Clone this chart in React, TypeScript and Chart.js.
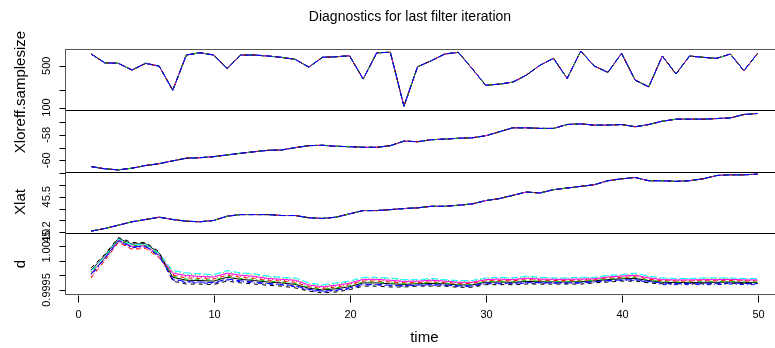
import React, { useEffect, useRef } from 'react';
import { Chart, registerables } from 'chart.js';

Chart.register(...registerables);

const TITLE = 'Diagnostics for last filter iteration';
const X_TITLE = 'time';

const TIME = [1, 2, 3, 4, 5, 6, 7, 8, 9, 10, 11, 12, 13, 14, 15, 16, 17, 18, 19, 20, 21, 22, 23, 24, 25, 26, 27, 28, 29, 30, 31, 32, 33, 34, 35, 36, 37, 38, 39, 40, 41, 42, 43, 44, 45, 46, 47, 48, 49, 50];
const TIME_TICKS = [0, 10, 20, 30, 40, 50];
const TIME_RANGE = [-0.96, 51.96];

// Panel 1: effective sample size (log axis)
const EFF_SAMPLE_SIZE = [787, 562, 549, 424, 549, 494, 195, 757, 827, 757, 452, 757, 757, 728, 692, 641, 475, 692, 709, 735, 300, 827, 840, 105, 481, 607, 787, 840, 452, 237, 246, 266, 349, 510, 666, 307, 883, 494, 388, 808, 288, 222, 728, 365, 728, 692, 666, 787, 413, 808];
const EFF_TICKS = [100, 200, 500];
const EFF_TICK_LABELS = ['100', '', '500'];
const EFF_RANGE = [90.1, 955];

// Panel 2: Xlon
const X_LON = [-60.5, -60.68, -60.76, -60.63, -60.42, -60.27, -60.05, -59.84, -59.8, -59.72, -59.58, -59.45, -59.33, -59.22, -59.19, -59.01, -58.85, -58.82, -58.9, -58.93, -58.98, -58.98, -58.85, -58.49, -58.54, -58.38, -58.33, -58.27, -58.23, -58.07, -57.76, -57.44, -57.44, -57.49, -57.49, -57.18, -57.13, -57.23, -57.23, -57.18, -57.36, -57.18, -56.92, -56.76, -56.76, -56.76, -56.71, -56.66, -56.39, -56.31];
const LON_TICKS = [-60, -59, -58, -57];
const LON_TICK_LABELS = ['-60', '', '-58', ''];
const LON_RANGE = [-60.89, -56.055];

// Panel 3: Xlat
const X_LAT = [45.209, 45.231, 45.259, 45.288, 45.307, 45.327, 45.307, 45.293, 45.288, 45.299, 45.335, 45.349, 45.349, 45.349, 45.341, 45.341, 45.322, 45.316, 45.327, 45.355, 45.383, 45.383, 45.391, 45.4, 45.406, 45.419, 45.419, 45.428, 45.439, 45.467, 45.484, 45.512, 45.54, 45.532, 45.56, 45.574, 45.588, 45.602, 45.636, 45.652, 45.663, 45.636, 45.636, 45.63, 45.636, 45.652, 45.68, 45.686, 45.686, 45.692];
const LAT_TICKS = [45.2, 45.3, 45.4, 45.5, 45.6, 45.7];
const LAT_TICK_LABELS = ['45.2', '', '', '45.5', '', ''];
const LAT_RANGE = [45.195, 45.714];

// Panel 4: d, one series per replicate
const D_REP1 = [1.00018, 1.00067, 1.00125, 1.00106, 1.00107, 1.00076, 0.99993, 0.99983, 0.99982, 0.9998, 0.99993, 0.99986, 0.99982, 0.99977, 0.99974, 0.99969, 0.99956, 0.9995, 0.99954, 0.99961, 0.99974, 0.99974, 0.99971, 0.99969, 0.99971, 0.99972, 0.99971, 0.99967, 0.99967, 0.99976, 0.99977, 0.99976, 0.99979, 0.99978, 0.99977, 0.99977, 0.99978, 0.99981, 0.99985, 0.99988, 0.99989, 0.99982, 0.99976, 0.99975, 0.99975, 0.99976, 0.99976, 0.99977, 0.99975, 0.99975];
const D_REP2 = [0.99991, 1.00049, 1.00111, 1.00088, 1.00091, 1.00059, 1.0, 0.99991, 0.99989, 0.99987, 1.0, 0.99993, 0.99989, 0.99983, 0.9998, 0.99976, 0.99961, 0.99955, 0.9996, 0.99967, 0.9998, 0.9998, 0.99977, 0.99974, 0.99975, 0.99977, 0.99975, 0.99972, 0.99972, 0.99981, 0.99982, 0.99981, 0.99985, 0.99983, 0.99982, 0.99982, 0.99983, 0.99984, 0.9999, 0.99992, 0.99995, 0.99987, 0.99981, 0.9998, 0.9998, 0.99981, 0.99981, 0.99982, 0.9998, 0.9998];
const D_REP3 = [1.00011, 1.00062, 1.00121, 1.00102, 1.00103, 1.00072, 1.00012, 1.00004, 1.00002, 0.99999, 1.00012, 1.00005, 1.00002, 0.99994, 0.9999, 0.99988, 0.99971, 0.99965, 0.99971, 0.99977, 0.9999, 0.9999, 0.99988, 0.99983, 0.99983, 0.99986, 0.99983, 0.9998, 0.9998, 0.99989, 0.99991, 0.99989, 0.99994, 0.99991, 0.99989, 0.99989, 0.99991, 0.99991, 0.99998, 1.0, 1.00004, 0.99995, 0.99989, 0.99987, 0.99987, 0.99989, 0.99989, 0.99989, 0.99987, 0.99987];
const D_REP4 = [1.0, 1.00055, 1.00115, 1.00094, 1.00096, 1.00064, 0.99984, 0.99975, 0.99974, 0.99972, 0.99984, 0.99978, 0.99974, 0.9997, 0.99967, 0.99961, 0.99949, 0.99943, 0.99947, 0.99954, 0.99967, 0.99967, 0.99964, 0.99963, 0.99966, 0.99966, 0.99966, 0.99962, 0.99962, 0.99971, 0.99971, 0.99971, 0.99973, 0.99973, 0.99973, 0.99973, 0.99973, 0.99976, 0.9998, 0.99983, 0.99983, 0.99977, 0.99968, 0.99968, 0.99968, 0.99968, 0.99968, 0.9997, 0.99968, 0.99968];
const D_REP5 = [1.00015, 1.00064, 1.00123, 1.00104, 1.00105, 1.00074, 1.00016, 1.00008, 1.00005, 1.00002, 1.00016, 1.00008, 1.00005, 0.99997, 0.99993, 0.99991, 0.99974, 0.99968, 0.99974, 0.9998, 0.99993, 0.99993, 0.99991, 0.99985, 0.99985, 0.99989, 0.99985, 0.99982, 0.99982, 0.99991, 0.99993, 0.99991, 0.99997, 0.99993, 0.99991, 0.99991, 0.99993, 0.99993, 1.0, 1.00002, 1.00007, 0.99997, 0.99991, 0.99989, 0.99989, 0.99991, 0.99991, 0.99991, 0.99989, 0.99989];
const D_REP6 = [1.00006, 1.00059, 1.00119, 1.00098, 1.001, 1.00068, 1.00007, 0.99999, 0.99996, 0.99994, 1.00007, 1.0, 0.99996, 0.99989, 0.99986, 0.99983, 0.99967, 0.99961, 0.99966, 0.99973, 0.99986, 0.99986, 0.99983, 0.99979, 0.9998, 0.99983, 0.9998, 0.99976, 0.99976, 0.99985, 0.99987, 0.99985, 0.9999, 0.99987, 0.99986, 0.99986, 0.99987, 0.99988, 0.99994, 0.99997, 1.0, 0.99991, 0.99985, 0.99984, 0.99984, 0.99985, 0.99985, 0.99986, 0.99984, 0.99984];
const D_REP7 = [1.00025, 1.00071, 1.00128, 1.00111, 1.00111, 1.0008, 0.9998, 0.9997, 0.9997, 0.99968, 0.9998, 0.99974, 0.9997, 0.99966, 0.99963, 0.99957, 0.99946, 0.9994, 0.99943, 0.99951, 0.99963, 0.99963, 0.9996, 0.9996, 0.99963, 0.99963, 0.99963, 0.99959, 0.99959, 0.99968, 0.99968, 0.99968, 0.9997, 0.9997, 0.9997, 0.9997, 0.9997, 0.99974, 0.99977, 0.9998, 0.9998, 0.99974, 0.99971, 0.99971, 0.99971, 0.99971, 0.99971, 0.99973, 0.99971, 0.99971];
const D_REP8 = [0.99994, 1.00051, 1.00113, 1.0009, 1.00093, 1.00061, 1.00003, 0.99995, 0.99993, 0.9999, 1.00003, 0.99996, 0.99993, 0.99986, 0.99983, 0.99979, 0.99964, 0.99958, 0.99963, 0.9997, 0.99983, 0.99983, 0.9998, 0.99976, 0.99977, 0.9998, 0.99977, 0.99974, 0.99974, 0.99983, 0.99984, 0.99983, 0.99988, 0.99985, 0.99984, 0.99984, 0.99985, 0.99986, 0.99992, 0.99994, 0.99998, 0.99989, 0.99983, 0.99982, 0.99982, 0.99983, 0.99983, 0.99984, 0.99982, 0.99982];
const D_REP9 = [1.00008, 1.0006, 1.0012, 1.001, 1.00101, 1.0007, 0.99996, 0.99987, 0.99986, 0.99983, 0.99996, 0.99989, 0.99986, 0.9998, 0.99977, 0.99972, 0.99959, 0.99953, 0.99957, 0.99964, 0.99977, 0.99977, 0.99974, 0.99971, 0.99973, 0.99975, 0.99973, 0.99969, 0.99969, 0.99978, 0.99979, 0.99978, 0.99982, 0.9998, 0.99979, 0.99979, 0.9998, 0.99983, 0.99987, 0.9999, 0.99992, 0.99984, 0.99978, 0.99977, 0.99977, 0.99978, 0.99978, 0.99979, 0.99977, 0.99977];
const D_REP10 = [1.00003, 1.00057, 1.00117, 1.00096, 1.00098, 1.00066, 0.99987, 0.99978, 0.99977, 0.99975, 0.99987, 0.99981, 0.99977, 0.99972, 0.99969, 0.99964, 0.99952, 0.99946, 0.99949, 0.99957, 0.99969, 0.99969, 0.99966, 0.99965, 0.99967, 0.99968, 0.99967, 0.99964, 0.99964, 0.99973, 0.99973, 0.99973, 0.99975, 0.99975, 0.99974, 0.99974, 0.99975, 0.99978, 0.99982, 0.99984, 0.99985, 0.99979, 0.99973, 0.99972, 0.99972, 0.99973, 0.99973, 0.99974, 0.99972, 0.99972];
const D_REPLICATES = [D_REP1, D_REP2, D_REP3, D_REP4, D_REP5, D_REP6, D_REP7, D_REP8, D_REP9, D_REP10];
const D_TICKS = [0.9995, 1.0, 1.0005, 1.001];
const D_TICK_LABELS = ['0.9995', '', '', '1.0010'];
const D_RANGE = [0.999363, 1.001442];

const N_REPLICATES = 10;

// R matplot palette and line types
const COLORS = ['#000000', '#FF0000', '#00CD00', '#0000FF', '#00FFFF', '#FF00FF'];
const DASHES: number[][] = [[], [4, 4], [1, 3], [1, 3, 4, 3], [7, 3]];

const FONT = 'Arial, "Liberation Sans", sans-serif';

function makeSet(values: number[], axis: string, i: number) {
  return {
    data: TIME.map((t, k) => ({ x: t, y: values[k] })),
    yAxisID: axis,
    borderColor: COLORS[i % 6],
    borderDash: DASHES[i % 5],
    borderWidth: 1,
    pointRadius: 0,
    pointHoverRadius: 0,
    tension: 0,
    fill: false,
  };
}

const PANELS = [
  { id: 'yEff', ticks: EFF_TICKS, labels: EFF_TICK_LABELS },
  { id: 'yLon', ticks: LON_TICKS, labels: LON_TICK_LABELS },
  { id: 'yLat', ticks: LAT_TICKS, labels: LAT_TICK_LABELS },
  { id: 'yD', ticks: D_TICKS, labels: D_TICK_LABELS },
];

const decorPlugin = {
  id: 'rDecor',
  afterDraw(chart: any) {
    const ctx = chart.ctx as CanvasRenderingContext2D;
    const area = chart.chartArea;
    const xs = chart.scales.x;
    ctx.save();
    ctx.lineWidth = 1;
    const L = Math.round(area.left) + 0.5;
    const R = Math.round(area.right) + 0.5;
    const T = Math.round(area.top) + 0.5;
    const B = Math.round(area.bottom) + 0.5;

    // panel dividers
    ctx.strokeStyle = '#000';
    for (const id of ['yEff', 'yLon', 'yLat']) {
      const yb = Math.round(chart.scales[id].bottom) + 0.5;
      ctx.beginPath();
      ctx.moveTo(L, yb);
      ctx.lineTo(R, yb);
      ctx.stroke();
    }
    // outer frame
    ctx.strokeStyle = '#555';
    ctx.strokeRect(L, T, R - L, B - T);

    // y ticks and labels
    ctx.strokeStyle = '#000';
    ctx.fillStyle = '#000';
    ctx.font = `11px ${FONT}`;
    ctx.textAlign = 'center';
    ctx.textBaseline = 'middle';
    for (const p of PANELS) {
      const sc = chart.scales[p.id];
      p.ticks.forEach((v, k) => {
        const y = Math.round(sc.getPixelForValue(v)) + 0.5;
        ctx.beginPath();
        ctx.moveTo(L - 6, y);
        ctx.lineTo(L, y);
        ctx.stroke();
        const lab = p.labels[k];
        if (lab) {
          ctx.save();
          ctx.translate(47, sc.getPixelForValue(v));
          ctx.rotate(-Math.PI / 2);
          ctx.fillText(lab, 0, 0);
          ctx.restore();
        }
      });
    }

    // x ticks and labels
    TIME_TICKS.forEach((t) => {
      const x = Math.round(xs.getPixelForValue(t)) + 0.5;
      ctx.beginPath();
      ctx.moveTo(x, B + 1);
      ctx.lineTo(x, B + 8);
      ctx.stroke();
      ctx.fillText(String(t), x, 315);
    });

    // axis titles
    const cx = (xs.getPixelForValue(TIME_RANGE[0]) + xs.getPixelForValue(TIME_RANGE[1])) / 2;
    ctx.font = `15px ${FONT}`;
    ctx.fillText(X_TITLE, cx, 338);
    const yTitles: [string, number][] = [
      ['Xloreff.samplesize', 92],
      ['Xlat', 202],
      ['d', 264],
    ];
    for (const [txt, y] of yTitles) {
      ctx.save();
      ctx.translate(21, y);
      ctx.rotate(-Math.PI / 2);
      ctx.fillText(txt, 0, 0);
      ctx.restore();
    }

    // main title
    ctx.font = `14px ${FONT}`;
    ctx.fillText(TITLE, 410, 17);
    ctx.restore();
  },
};

export default function App() {
  const ref = useRef<HTMLCanvasElement>(null);
  useEffect(() => {
    document.body.style.margin = '0';
    const canvas = ref.current;
    if (!canvas) return;
    const datasets: any[] = [];
    const groups: [number[] | null, string][] = [
      [EFF_SAMPLE_SIZE, 'yEff'],
      [X_LON, 'yLon'],
      [X_LAT, 'yLat'],
      [null, 'yD'],
    ];
    for (const [vals, axis] of groups) {
      for (let i = N_REPLICATES - 1; i >= 0; i--) {
        datasets.push(makeSet(vals ? vals : D_REPLICATES[i], axis, i));
      }
    }
    const hidden = { display: false };
    const chart = new Chart(canvas, {
      type: 'line',
      data: { datasets },
      options: {
        animation: false,
        responsive: false,
        devicePixelRatio: 1,
        events: [],
        layout: { padding: { left: 64.5, right: 800 - 784.2, top: 49, bottom: 54 } },
        plugins: { legend: hidden, title: hidden, tooltip: { enabled: false } },
        scales: {
          x: { type: 'linear', min: TIME_RANGE[0], max: TIME_RANGE[1], display: false, bounds: 'data' },
          yD: { type: 'linear', position: 'left', stack: 'panels', stackWeight: 1, min: D_RANGE[0], max: D_RANGE[1], display: false, bounds: 'data' },
          yLat: { type: 'linear', position: 'left', stack: 'panels', stackWeight: 1, min: LAT_RANGE[0], max: LAT_RANGE[1], display: false, bounds: 'data' },
          yLon: { type: 'linear', position: 'left', stack: 'panels', stackWeight: 1, min: LON_RANGE[0], max: LON_RANGE[1], display: false, bounds: 'data' },
          yEff: { type: 'logarithmic', position: 'left', stack: 'panels', stackWeight: 1, min: EFF_RANGE[0], max: EFF_RANGE[1], display: false, bounds: 'data' },
        },
      } as any,
      plugins: [decorPlugin],
    });
    return () => chart.destroy();
  }, []);
  return (
    <div style={{ position: 'absolute', left: 0, top: 0, width: 775, height: 348, overflow: 'hidden', background: '#fff' }}>
      <canvas ref={ref} width={800} height={348} style={{ display: 'block', width: 800, height: 348 }} />
    </div>
  );
}
